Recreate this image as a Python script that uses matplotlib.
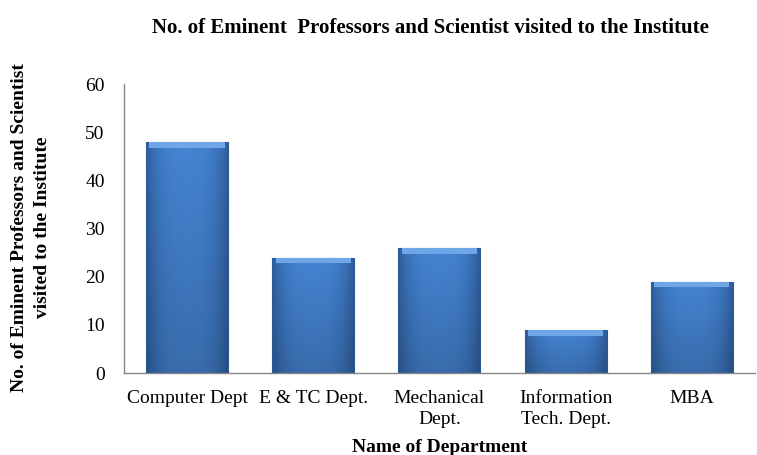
import matplotlib

matplotlib.use("Agg")
import matplotlib.pyplot as plt  # noqa: E402
import numpy as np  # noqa: E402
from matplotlib.colors import to_rgb  # noqa: E402

departments = ["Computer Dept", "E & TC Dept.", "Mechanical\nDept.",
               "Information\nTech. Dept.", "MBA"]
visitors = [48, 24, 26, 9, 19]
y_ticks = [0, 10, 20, 30, 40, 50, 60]

plt.rcParams["font.family"] = ["Liberation Serif", "DejaVu Serif"]

fig = plt.figure(figsize=(7.57, 4.55), dpi=100)
ax = fig.add_axes([0.164, 0.180, 0.833, 0.635])

x = np.arange(len(departments))
width = 0.65
bars = ax.bar(x, visitors, width=width, color="none", edgecolor="#2c5a94", linewidth=0.8,
              zorder=3)

# shaded fill: lighter in the middle, darker at the sides and toward the base
edge_c = np.array(to_rgb("#2f5f9e"))
mid_c = np.array(to_rgb("#4584d2"))
nx, ny = 60, 100
u = np.linspace(-1, 1, nx)
horiz = 1 - np.abs(u) ** 3
v = np.linspace(0, 1, ny)[:, None]  # 0 bottom -> 1 top
for rect in bars:
    bx, by = rect.get_x(), rect.get_y()
    bw, bh = rect.get_width(), rect.get_height()
    col = edge_c + (mid_c - edge_c) * horiz[None, :, None]
    col = np.clip(col * (0.82 + 0.18 * v[..., None]), 0, 1)
    im = ax.imshow(col, extent=[bx, bx + bw, by, by + bh], origin="lower",
                   aspect="auto", zorder=2, interpolation="bilinear")
    im.set_clip_path(rect)

# lighter bevel strip on top of each bar
bevel = 1.2
ax.bar(x, [bevel] * len(visitors), bottom=[v - bevel for v in visitors], width=width * 0.92,
       color="#6ea6e8", edgecolor="none", zorder=4)

ax.set_xlim(-0.5, len(departments) - 0.5)
ax.set_ylim(0, 60)
ax.set_yticks(y_ticks)
ax.set_xticks(x)
ax.set_xticklabels(departments, fontsize=14, linespacing=1.3)
ax.tick_params(axis="y", labelsize=14, length=0, pad=14)
ax.tick_params(axis="x", length=0, pad=12)

for side in ("top", "right"):
    ax.spines[side].set_visible(False)
for side in ("left", "bottom"):
    ax.spines[side].set_color("#888888")
    ax.spines[side].set_linewidth(1.0)

ax.set_xlabel("Name of Department", fontsize=14, fontweight="bold", labelpad=8)
fig.text(0.041, 0.5, "No. of Eminent Professors and Scientist\nvisited to the Institute",
         rotation=90, ha="center", va="center", fontsize=14, fontweight="bold",
         linespacing=1.4)
fig.text(0.568, 0.938, "No. of Eminent  Professors and Scientist visited to the Institute",
         ha="center", va="center", fontsize=15, fontweight="bold")

fig.savefig("out.png", dpi=100)
